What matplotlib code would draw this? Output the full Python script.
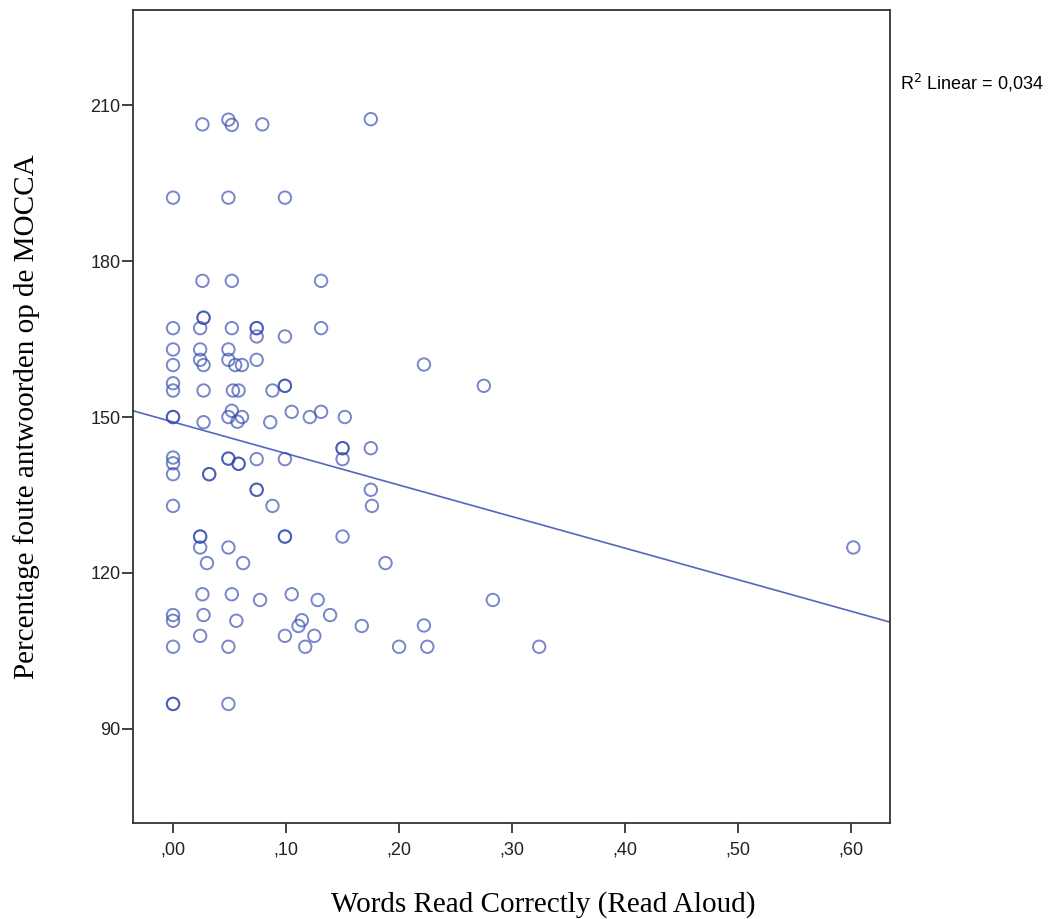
import numpy as np
import matplotlib.pyplot as plt

# Datos (x = palabras leidas correctamente, y = % foute antwoorden)
words_correct = [
    0.026, 0.049, 0.052, 0.079, 0.175,
    0.000, 0.049, 0.099,
    0.026, 0.052, 0.131,
    0.027, 0.027, 0.000, 0.024, 0.052, 0.074, 0.074, 0.074, 0.099, 0.131,
    0.000, 0.024, 0.049,
    0.000, 0.024, 0.027, 0.049, 0.055, 0.061, 0.074, 0.222,
    0.000, 0.000, 0.027, 0.053, 0.058, 0.088, 0.099, 0.099, 0.275,
    0.000, 0.000, 0.027, 0.049, 0.052, 0.057, 0.061, 0.086, 0.105, 0.121, 0.131, 0.152,
    0.000, 0.000, 0.000, 0.032, 0.032, 0.049, 0.049, 0.058, 0.058, 0.074, 0.099,
    0.150, 0.150, 0.150, 0.175,
    0.000, 0.074, 0.074, 0.088, 0.175, 0.176,
    0.024, 0.024, 0.024, 0.049, 0.099, 0.099, 0.150,
    0.030, 0.062, 0.188,
    0.026, 0.052, 0.077, 0.105, 0.128, 0.283,
    0.000, 0.000, 0.027, 0.056, 0.114, 0.111, 0.139, 0.167, 0.222,
    0.024, 0.099, 0.125,
    0.000, 0.049, 0.117, 0.200, 0.225, 0.324,
    0.000, 0.000, 0.049,
    0.602,
]
pct_wrong = [
    206.3, 207.2, 206.2, 206.3, 207.3,
    192.2, 192.2, 192.2,
    176.2, 176.2, 176.2,
    169.1, 169.1, 167.1, 167.1, 167.1, 167.1, 167.1, 165.5, 165.5, 167.1,
    163.0, 163.0, 163.0,
    160.0, 161.0, 160.0, 161.0, 160.0, 160.0, 161.0, 160.1,
    156.5, 155.1, 155.1, 155.1, 155.1, 155.1, 156.0, 156.0, 156.0,
    150.0, 150.0, 149.0, 150.0, 151.2, 149.1, 150.0, 149.0, 151.0, 150.0, 151.0, 150.0,
    142.2, 141.1, 139.0, 139.0, 139.0, 142.0, 142.0, 141.0, 141.0, 141.9, 141.9,
    144.0, 144.0, 141.9, 144.0,
    132.9, 136.0, 136.0, 132.9, 136.0, 132.9,
    127.0, 127.0, 124.9, 124.9, 127.0, 127.0, 127.0,
    121.9, 121.9, 121.9,
    115.9, 115.9, 114.8, 115.9, 114.8, 114.8,
    111.9, 110.8, 111.9, 110.8, 110.9, 109.8, 111.9, 109.8, 109.9,
    107.9, 107.9, 107.9,
    105.8, 105.8, 105.8, 105.8, 105.8, 105.8,
    94.8, 94.8, 94.8,
    124.9,
]

# Recta de ajuste lineal (coeficientes)
fit_intercept = 149.05
fit_slope = -60.7

x_ticks = [0.0, 0.1, 0.2, 0.3, 0.4, 0.5, 0.6]
x_tick_labels = [",00", ",10", ",20", ",30", ",40", ",50", ",60"]
y_ticks = [90, 120, 150, 180, 210]

x = np.array(words_correct)
y = np.array(pct_wrong)

fig = plt.figure(figsize=(10.5, 9.19), dpi=100)
ax = fig.add_axes([0.1267, 0.1045, 0.721, 0.8846])

ax.scatter(x, y, s=80, facecolors="none", edgecolors="#2f47aa",
           linewidths=1.4, alpha=0.65, zorder=3)

x_min, x_max = -0.0354, 0.6345
xs = np.array([x_min, x_max])
ax.plot(xs, fit_intercept + fit_slope * xs, color="#5366c0", linewidth=1.2, zorder=2)

ax.set_xlim(x_min, x_max)
ax.set_ylim(71.9, 228.3)
ax.set_xticks(x_ticks)
ax.set_xticklabels(x_tick_labels)
ax.set_yticks(y_ticks)

for side in ax.spines.values():
    side.set_linewidth(1.3)
    side.set_color("#333333")
ax.tick_params(direction="out", length=7.3, width=1.3, colors="#333333",
               labelsize=13, labelcolor="#222222")
for lbl in ax.get_xticklabels() + ax.get_yticklabels():
    lbl.set_family(["Liberation Sans", "DejaVu Sans"])
ax.tick_params(axis="x", pad=6)
ax.tick_params(axis="y", length=8, pad=1)

ax.set_xlabel("Words Read Correctly (Read Aloud)", family="Liberation Serif",
              fontsize=21)
ax.xaxis.set_label_coords(0.5416, -0.084)
ax.set_ylabel("Percentage foute antwoorden op de MOCCA", family="Liberation Serif",
              fontsize=21, labelpad=36)

fig.text(0.857, 0.9097, "R$^2$ Linear = 0,034", family="Liberation Sans",
         fontsize=13, va="center", ha="left")

fig.savefig("out.png", dpi=100)
